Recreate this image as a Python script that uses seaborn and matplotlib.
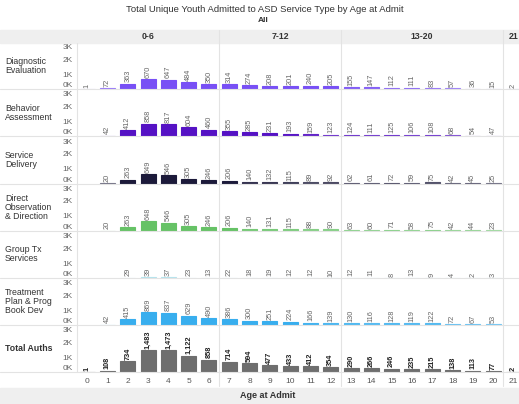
import numpy as np
import pandas as pd
import seaborn as sns
import matplotlib.pyplot as plt
from matplotlib.lines import Line2D
from matplotlib.patches import Rectangle
from matplotlib.colors import to_rgb

nan = np.nan
ages = list(range(22))
groups = ['0-6', '7-12', '13-20', '21']
group_spans = [(0, 6), (7, 12), (13, 20), (21, 21)]

row_names = ['Diagnostic\nEvaluation', 'Behavior\nAssessment', 'Service\nDelivery',
             'Direct\nObservation\n& Direction', 'Group Tx\nServices',
             'Treatment\nPlan & Prog\nBook Dev', 'Total Auths']

diagnostic = [1, 72, 363, 670, 647, 484, 350, 314, 274, 208, 201, 240, 205,
              155, 147, 112, 111, 83, 57, 36, 15, 2]
behavior = [nan, 42, 412, 858, 817, 604, 460, 355, 285, 231, 193, 159, 123,
            124, 111, 125, 106, 108, 68, 54, 47, nan]
service = [nan, 20, 263, 649, 546, 305, 246, 206, 140, 132, 115, 89, 92,
           62, 61, 72, 59, 75, 42, 45, 25, nan]
direct_obs = [nan, 20, 263, 648, 546, 305, 246, 206, 140, 131, 115, 88, 90,
              63, 60, 71, 58, 75, 42, 44, 23, nan]
group_tx = [nan, nan, 29, 39, 37, 23, 13, 22, 18, 19, 12, 12, 10,
            12, 11, 8, 13, 9, 4, 2, 3, nan]
treatment = [nan, 42, 415, 869, 837, 629, 490, 386, 300, 251, 224, 166, 139,
             130, 116, 128, 119, 122, 72, 67, 53, nan]
total_auths = [1, 108, 734, 1483, 1473, 1122, 858, 714, 594, 477, 433, 412, 354,
               290, 266, 246, 235, 215, 138, 113, 77, 2]

row_values = [diagnostic, behavior, service, direct_obs, group_tx, treatment, total_auths]
row_colors = ['#7850f5', '#5512c4', '#1c1a3a', '#66c266', '#8fd6e3', '#38aeee', '#6e6e6e']

W, H = 519, 404
fig = plt.figure(figsize=(W / 100, H / 100), dpi=100)
sns.set_style('white')
plt.rcParams['font.family'] = ['Liberation Sans', 'DejaVu Sans']


def fx(x):
    return x / W


def fy(y):
    return 1 - y / H


def shade(base, v, fixed=False):
    if fixed:
        return base
    t = 0.5 + 0.5 * min(1.0, v / 200) ** 0.7
    b = np.array(to_rgb(base))
    return tuple(1 - t * (1 - b))


# layout in pixels
left, col_w = 77, 20.3
right = left + 22 * col_w
row_top0, row_h = 42, 47.2
grid_c = '#e3e3e3'

# header band and footer band
fig.patches.append(Rectangle((0, fy(43)), 1, fy(30) - fy(43), transform=fig.transFigure,
                             color='#efefef', zorder=0))
fig.patches.append(Rectangle((0, 0), 1, fy(388), transform=fig.transFigure,
                             color='#efefef', zorder=0))

fig.text(fx(265), fy(10), 'Total Unique Youth Admitted to ASD Service Type by Age at Admit',
         ha='center', va='center', fontsize=6.8, color='#333333')
fig.text(fx(263), fy(20), 'All', ha='center', va='center', fontsize=6,
         fontweight='bold', color='#333333')
fig.text(fx(268), fy(396), 'Age at Admit', ha='center', va='center', fontsize=6.5,
         fontweight='bold', color='#333333')

for name, (a, b) in zip(groups, group_spans):
    xc = left + ((a + b) / 2 + 0.5) * col_w
    fig.text(fx(xc), fy(36.5), name, ha='center', va='center', fontsize=6.3,
             fontweight='bold', color='#333333')

for i, (name, vals, base) in enumerate(zip(row_names, row_values, row_colors)):
    top = row_top0 + i * row_h
    ax = fig.add_axes([fx(left), fy(top + row_h), (right - left) / W, row_h / H])
    ax.patch.set_alpha(0)
    df = pd.DataFrame({'age': ages, 'value': vals}).dropna()
    is_total = name == 'Total Auths'
    pal = {a: shade(base, v if not np.isnan(v) else 0, is_total)
           for a, v in zip(ages, vals)}
    sns.barplot(data=df, x='age', y='value', hue='age', palette=pal, order=ages,
                hue_order=ages, legend=False, dodge=False, width=0.74,
                saturation=1, errorbar=None, ax=ax)
    # thin outline in the bar colour so small bars stay visible
    for p in ax.patches:
        p.set_edgecolor(p.get_facecolor())
        p.set_linewidth(0.8)
    for a, v in zip(ages, vals):
        if np.isnan(v):
            continue
        ax.text(a, v + 90, f'{int(v):,}', rotation=90, ha='center', va='bottom',
                fontsize=5.3, color='#222222' if is_total else '#666666',
                fontweight='bold' if is_total else 'normal')
    ax.set_xlim(-0.5, 21.5)
    ax.set_ylim(0, 3150)
    ax.set_yticks([0, 1000, 2000, 3000])
    ax.set_yticklabels(['0K', '1K', '2K', '3K'])
    ax.tick_params(axis='y', labelsize=6, labelcolor='#666666', length=2,
                   color='#cccccc', pad=1)
    labs = ax.get_yticklabels()
    labs[0].set_va('bottom')
    labs[-1].set_va('top')
    ax.set_xlabel('')
    ax.set_ylabel('')
    for s in ax.spines.values():
        s.set_visible(False)
    if is_total:
        ax.tick_params(axis='x', labelsize=6, labelcolor='#555555', length=0, pad=4)
    else:
        ax.set_xticks([])
    fig.text(fx(5), fy(top + row_h / 2), name, ha='left', va='center', fontsize=6.3,
             color='#333333', linespacing=1.0,
             fontweight='bold' if is_total else 'normal')
    # row separator
    fig.lines.append(Line2D([0, 1], [fy(top + row_h)] * 2, transform=fig.transFigure,
                            color=grid_c, lw=0.8, zorder=0))

# vertical separators
bottom_px = row_top0 + 7 * row_h
fig.lines.append(Line2D([fx(left)] * 2, [fy(43), fy(bottom_px)], transform=fig.transFigure,
                        color=grid_c, lw=0.8))
for a, b in group_spans[:-1]:
    xb = left + (b + 1) * col_w
    fig.lines.append(Line2D([fx(xb)] * 2, [fy(30), fy(386)], transform=fig.transFigure,
                            color=grid_c, lw=0.8))

fig.savefig('out.png', dpi=100)
